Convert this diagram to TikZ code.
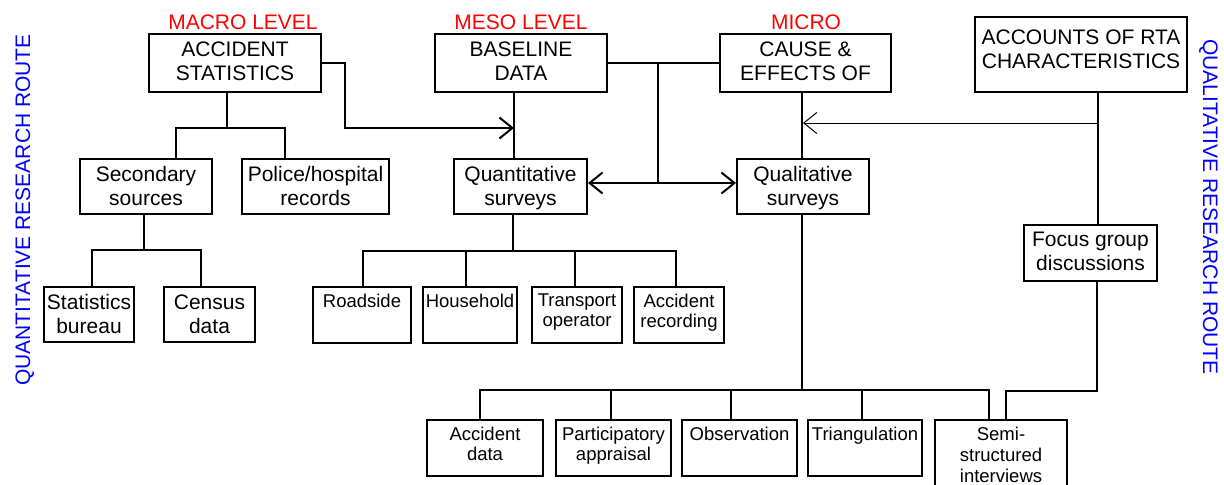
\documentclass[tikz,border=0pt]{standalone}
\usepackage{fontspec}
\setmainfont{Liberation Sans}
\usetikzlibrary{arrows.meta,fit}
\definecolor{lvlred}{RGB}{255,0,0}
\definecolor{routeblue}{RGB}{0,0,255}
% a framed box given by its corners, with its text hung from the top edge
\newcommand\rtabox[7]{%
  \node[box, fit={(#2,#3)(#4,#5)}] (#1) {};
  \node[#6] (#1-t) at (#1.north) {#7};}
\begin{document}
\begin{tikzpicture}[x=0.5pt,y=-0.5pt,
  box/.style={draw, line width=1pt, inner sep=0pt, rectangle},
  bigtxt/.style={font=\fontsize{10.5}{12}\selectfont, align=center, anchor=north, inner sep=0pt, yshift=-4pt},
  smalltxt/.style={font=\fontsize{9.25}{10}\selectfont, align=center, anchor=north, inner sep=0pt, yshift=-3.9pt},
  lvl/.style={font=\fontsize{10.5}{12}\selectfont, text=lvlred, anchor=base, inner sep=0pt},
  route/.style={font=\fontsize{10.5}{12}\selectfont, text=routeblue, anchor=base, inner sep=0pt},
  link/.style={line width=1pt, line join=miter},
  thinlink/.style={line width=0.5pt},
  barb/.style={-{Straight Barb[length=6.5pt,width=10.5pt]}},
  barbs/.style={{Straight Barb[length=6.5pt,width=10.5pt]}-{Straight Barb[length=6.5pt,width=10.5pt]}}]
\useasboundingbox (0,0) rectangle (1224,484);

% level headings and side labels
\node[lvl] (macro) at (243,29) {MACRO LEVEL};
\node[lvl] (meso) at (521,29) {MESO LEVEL};
\node[lvl] (micro) at (806,29) {MICRO};
\node[route, rotate=90] (quanroute) at (30,210) {QUANTITATIVE RESEARCH ROUTE};
\node[route, rotate=-90] (qualroute) at (1203,207) {QUALITATIVE RESEARCH ROUTE};

% top row
\rtabox{acc}{149}{34}{321}{92}{bigtxt}{ACCIDENT\\STATISTICS}
\rtabox{base}{435}{34}{607}{92}{bigtxt}{BASELINE\\DATA}
\rtabox{cause}{720}{34}{891}{92}{bigtxt}{CAUSE \&\\EFFECTS OF}
\rtabox{acct}{975}{17}{1187}{92}{bigtxt, yshift=-2.5pt}{ACCOUNTS OF RTA\\CHARACTERISTICS}

% second row
\rtabox{sec}{80}{159}{212}{214}{bigtxt}{Secondary\\sources}
\rtabox{pol}{242}{159}{389}{214}{bigtxt}{Police/hospital\\records}
\rtabox{quant}{454}{159}{587}{214}{bigtxt}{Quantitative\\surveys}
\rtabox{qual}{737}{159}{869}{214}{bigtxt}{Qualitative\\surveys}
\rtabox{focus}{1024}{225}{1157}{281}{bigtxt}{Focus group\\discussions}

% third row
\rtabox{stat}{44}{287}{134}{342}{bigtxt}{Statistics\\bureau}
\rtabox{census}{164}{287}{255}{342}{bigtxt}{Census\\data}
\rtabox{road}{313}{287}{411}{343}{smalltxt}{Roadside}
\rtabox{house}{423}{287}{517}{343}{smalltxt}{Household}
\rtabox{trans}{532}{287}{622}{343}{smalltxt}{Transport\\operator}
\rtabox{accrec}{634}{287}{724}{343}{smalltxt}{Accident\\recording}

% bottom row
\rtabox{accdata}{427}{420}{543}{476}{smalltxt}{Accident\\data}
\rtabox{part}{556}{420}{671}{476}{smalltxt}{Participatory\\appraisal}
\rtabox{obs}{682}{420}{797}{476}{smalltxt}{Observation}
\rtabox{tri}{808}{420}{922}{476}{smalltxt}{Triangulation}
\rtabox{semi}{935}{420}{1067}{510}{smalltxt, font=\fontsize{9.25}{10.5}\selectfont}{Semi-\\structured\\interviews}

% junction points
\coordinate (a1) at (227,128);
\coordinate (a1l) at (176,128);
\coordinate (a1r) at (285,128);
\coordinate (a2) at (345,128);
\coordinate (m1) at (514,128);
\coordinate (m2) at (658,183);
\coordinate (m3) at (803,123);
\coordinate (r1) at (1098,123);
\coordinate (s1) at (144,250);
\coordinate (s1l) at (92,250);
\coordinate (s1r) at (201,250);
\coordinate (q1) at (513,251);
\coordinate (q1a) at (363,251);
\coordinate (q1b) at (466,251);
\coordinate (q1c) at (575,251);
\coordinate (q1d) at (676,251);
\coordinate (b0) at (802,390);
\coordinate (ba) at (480,390);
\coordinate (bb) at (611,390);
\coordinate (bc) at (731,390);
\coordinate (bd) at (862,390);
\coordinate (be) at (989,390);
\coordinate (f1) at (1097,391);
\coordinate (f2) at (1006,391);

% macro branch
\draw[link] (acc.south -| a1) -- (a1);
\draw[link] (sec.north -| a1l) -- (a1l) -- (a1r) -- (pol.north -| a1r);
\draw[link, barb] (acc.east) -| (a2) -- (m1);
\draw[link] (sec.south -| s1) -- (s1);
\draw[link] (stat.north -| s1l) -- (s1l) -- (s1r) -- (census.north -| s1r);

% meso branch
\draw[link] (base.south -| m1) -- (quant.north -| m1);
\draw[link] (base.east) -- (cause.west);
\draw[link] (m2 |- base.east) -- (m2);
\draw[link, barbs] (quant.east |- m2) -- (qual.west |- m2);
\draw[link] (quant.south -| q1) -- (q1);
\draw[link] (road.north -| q1a) -- (q1a) -- (q1d) -- (accrec.north -| q1d);
\draw[link] (house.north -| q1b) -- (q1b);
\draw[link] (trans.north -| q1c) -- (q1c);

% micro branch
\draw[link] (cause.south -| b0) -- (qual.north -| b0);
\draw[link] (qual.south -| b0) -- (b0);
\draw[link] (accdata.north -| ba) -- (ba) -- (be) -- (semi.north -| be);
\draw[link] (part.north -| bb) -- (bb);
\draw[link] (obs.north -| bc) -- (bc);
\draw[link] (tri.north -| bd) -- (bd);

% qualitative route
\draw[link] (acct.south -| r1) -- (focus.north -| r1);
\draw[thinlink, barb] (r1) -- (m3);
\draw[link] (focus.south -| f1) -- (f1) -- (f2) -- (semi.north -| f2);
\end{tikzpicture}
\end{document}
